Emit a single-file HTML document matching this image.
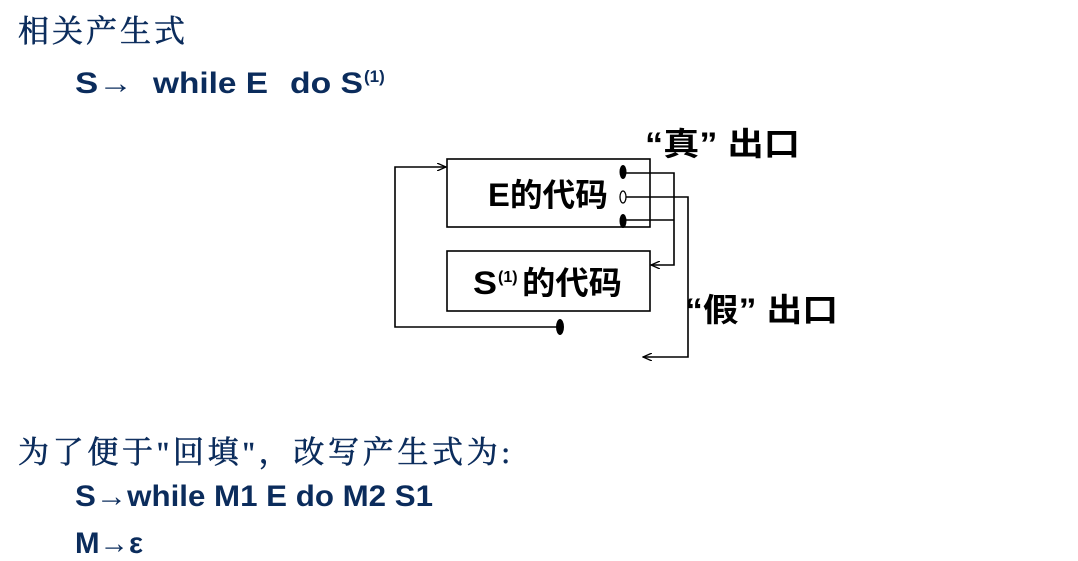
<!DOCTYPE html>
<html><head><meta charset="utf-8"><style>
html,body{margin:0;padding:0;background:#fff;width:1078px;height:561px;overflow:hidden}
svg text{font-family:"Liberation Sans","Noto Sans CJK SC",sans-serif}
.cn{font-family:"Liberation Serif","Noto Serif CJK SC",serif;fill:#0b2c5c;font-size:31px;stroke:#0b2c5c;stroke-width:0.6}
.b{fill:#0b2c5c;font-weight:bold;font-size:30px}
.k{fill:#000;font-weight:bold;font-size:32px}
</style></head><body>
<svg width="1078" height="561" xmlns="http://www.w3.org/2000/svg">
<defs><marker id="a" markerWidth="10" markerHeight="8" refX="9" refY="4" orient="auto" markerUnits="userSpaceOnUse"><path d="M0,0 L9,4 L0,8" fill="none" stroke="#000" stroke-width="1.3"/></marker></defs>
<text class="cn" x="18" y="42" textLength="167" lengthAdjust="spacing">相关产生式</text>
<text class="b" x="75" y="93" textLength="58" lengthAdjust="spacingAndGlyphs">S→</text>
<text class="b" x="153" y="93" textLength="115" lengthAdjust="spacingAndGlyphs">while E</text>
<text class="b" x="290" y="93" textLength="73" lengthAdjust="spacingAndGlyphs">do S</text>
<text class="b" x="364" y="82" style="font-size:17px">(1)</text>

<g stroke="#000" stroke-width="1.6" fill="none">
<rect x="447" y="159" width="203" height="68" fill="#fff"/>
<rect x="447" y="251" width="203" height="60" fill="#fff"/>
<polyline points="560,327 395,327 395,167 446,167" marker-end="url(#a)"/>
<polyline points="623,173 674,173 674,265 651,265" marker-end="url(#a)"/>
<polyline points="623,220 674,220"/>
<polyline points="623,197 688,197 688,357 643,357" marker-end="url(#a)"/>
</g>
<ellipse cx="623" cy="172" rx="3.5" ry="7" fill="#000"/>
<ellipse cx="623" cy="197" rx="3" ry="6" fill="#fff" stroke="#000" stroke-width="1.3"/>
<ellipse cx="623" cy="221" rx="3.5" ry="7" fill="#000"/>
<ellipse cx="560" cy="327" rx="4" ry="8" fill="#000"/>

<text class="k" x="488" y="206" textLength="120" lengthAdjust="spacingAndGlyphs">E的代码</text>
<text class="k" x="473" y="294" textLength="24" lengthAdjust="spacingAndGlyphs">S</text>
<text class="k" x="498" y="282" style="font-size:16px">(1)</text>
<text class="k" x="522" y="294" textLength="100" lengthAdjust="spacingAndGlyphs">的代码</text>
<text class="k" x="645" y="155" textLength="155" lengthAdjust="spacingAndGlyphs">“真” 出口</text>
<text class="k" x="685" y="321" textLength="153" lengthAdjust="spacingAndGlyphs">“假” 出口</text>

<text class="cn" x="18" y="463" textLength="492" lengthAdjust="spacing">为了便于"回填"，改写产生式为:</text>
<text class="b" x="75" y="506" textLength="358" lengthAdjust="spacingAndGlyphs">S→while M1 E do M2 S1</text>
<text class="b" x="75" y="553" textLength="68" lengthAdjust="spacingAndGlyphs">M→ε</text>
</svg>
</body></html>
